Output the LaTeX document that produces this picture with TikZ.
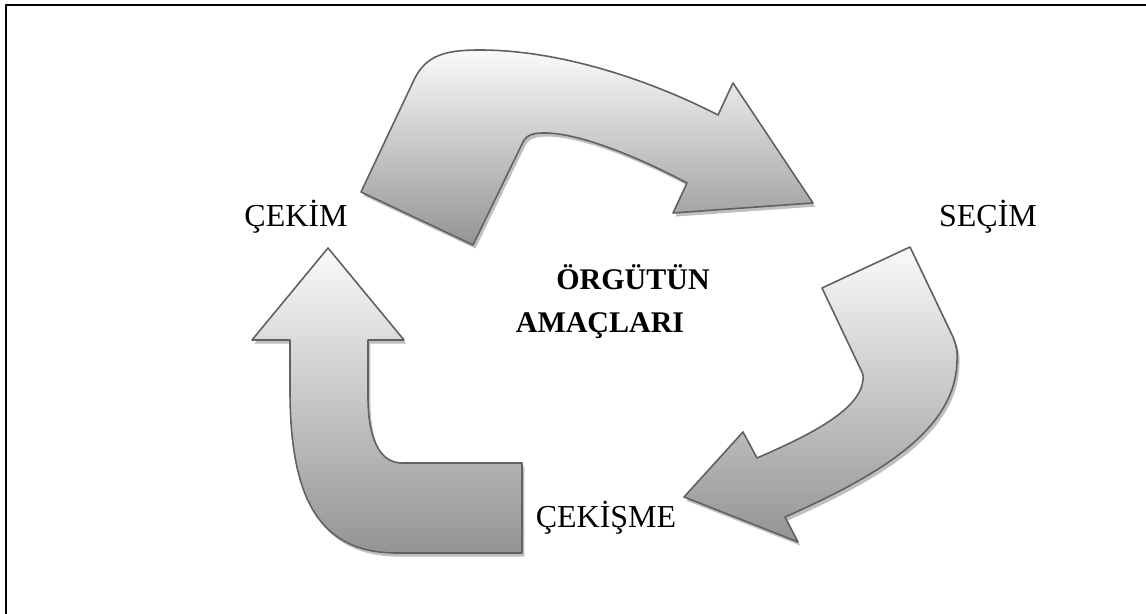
\documentclass[tikz,border=0pt]{standalone}
\usepackage{fontspec}
\setmainfont{Liberation Serif}
\usetikzlibrary{shadows}
\begin{document}
\begin{tikzpicture}[x=0.5pt, y=-0.5pt, font=\fontsize{16}{19}\selectfont, line join=round, line cap=round,
	blockarrow/.style={draw=black!62, line width=0.8pt, top color=white!98!black, bottom color=black!42,
		drop shadow={shadow xshift=1.2pt, shadow yshift=-1.8pt, fill=black!25, opacity=1}},
	label/.style={anchor=base, inner sep=0pt}]
	\useasboundingbox (0,0) rectangle (1146,614);
	\draw[line width=1pt] (6,614) -- (6,5) -- (1146,5);
	% the three curved arrows
	\path[blockarrow] (361,192) -- (413,82) .. controls (425,55) and (445,50) .. (480,50)
		.. controls (560,50) and (650,80) .. (718,115) -- (733,83) -- (813,203) -- (673,213) -- (687,183)
		.. controls (640,158) and (580,133) .. (545,133) .. controls (535,133) and (527,134) .. (523,142)
		-- (473,245) -- cycle;
	\path[blockarrow] (822,288) -- (910,247) -- (953,337) .. controls (956,345) and (958,352) .. (957,362)
		.. controls (955,430) and (880,475) .. (785,517) -- (798,542) -- (684,497) -- (743,432) -- (757,458)
		.. controls (810,435) and (860,410) .. (863,380) .. controls (864,375) and (862,372) .. (860,368)
		-- cycle;
	\path[blockarrow] (328,248) -- (404,340) -- (368,340) -- (368,397) .. controls (368,435) and (378,463) .. (402,463)
		-- (522,463) -- (522,553) -- (397,553) .. controls (320,553) and (290,500) .. (290,390)
		-- (290,340) -- (252,340) -- cycle;
	% labels
	\node[label] (cekim) at (296,227) {ÇEKİM};
	\node[label] (secim) at (988,227) {SEÇİM};
	\node[label] (cekisme) at (606,528) {ÇEKİŞME};
	\node[label, font=\fontsize{15}{18}\selectfont\bfseries] (amac1) at (633,290) {ÖRGÜTÜN};
	\node[label, font=\fontsize{15}{18}\selectfont\bfseries] (amac2) at (600,333) {AMAÇLARI};
\end{tikzpicture}
\end{document}
